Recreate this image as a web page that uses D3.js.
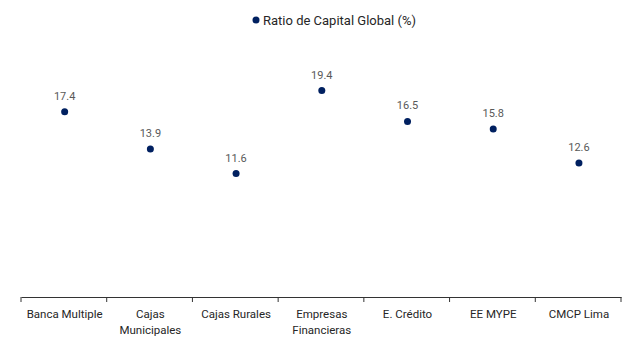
<!DOCTYPE html>
<html>
<head>
<meta charset="utf-8">
<script src="https://cdn.jsdelivr.net/npm/d3@7"></script>
<style>
  body { margin: 0; background: #fff; }
  text { font-family: Roboto, "Noto Sans", sans-serif; }
</style>
</head>
<body>
<script>
// data
var categories = ["Banca Multiple", "Cajas Municipales", "Cajas Rurales", "Empresas Financieras", "E. Crédito", "EE MYPE", "CMCP Lima"];
var tickLines = [["Banca Multiple"], ["Cajas", "Municipales"], ["Cajas Rurales"], ["Empresas", "Financieras"], ["E. Crédito"], ["EE MYPE"], ["CMCP Lima"]];
var ratio = [17.4, 13.9, 11.6, 19.4, 16.5, 15.8, 12.6];
var seriesName = "Ratio de Capital Global (%)";

var width = 627, height = 351;
var svg = d3.select("body").append("svg")
            .attr("width", width)
            .attr("height", height);

var x = d3.scaleBand().domain(categories).range([21, 621]);
var y = d3.scaleLinear().domain([0, 25]).range([297, 31]);
var cx = function(c) { return x(c) + x.bandwidth() / 2 + 0.8; };

// axis
var axis = svg.append("g")
              .attr("transform", "translate(0,297)")
              .call(d3.axisBottom(x).tickSize(0).tickFormat(""));
axis.select(".domain").attr("stroke", "#333").attr("stroke-width", 1);

// tick marks at band edges
var edges = categories.map(function(c) { return x(c); }).concat([x.range()[1]]);
svg.selectAll("line.tick-edge").data(edges).enter().append("line")
   .attr("class", "tick-edge")
   .attr("x1", function(d) { return d; })
   .attr("x2", function(d) { return d; })
   .attr("y1", 297).attr("y2", 302)
   .attr("stroke", "#333");

// category labels
var labels = svg.selectAll("text.cat").data(categories).enter().append("text")
   .attr("class", "cat")
   .attr("x", function(d) { return cx(d); })
   .attr("y", 318)
   .attr("text-anchor", "middle")
   .attr("font-size", "11.5px")
   .attr("fill", "#262626");
labels.each(function(d, i) {
  var t = d3.select(this);
  tickLines[i].forEach(function(line, j) {
    t.append("tspan")
     .attr("x", cx(d))
     .attr("dy", j === 0 ? 0 : 16)
     .text(line);
  });
});

// points
svg.selectAll("circle.pt").data(ratio).enter().append("circle")
   .attr("class", "pt")
   .attr("cx", function(d, i) { return cx(categories[i]); })
   .attr("cy", function(d) { return y(d); })
   .attr("r", 3.5)
   .attr("fill", "#002060");

// value labels
svg.selectAll("text.val").data(ratio).enter().append("text")
   .attr("class", "val")
   .attr("x", function(d, i) { return cx(categories[i]); })
   .attr("y", function(d) { return y(d) - 12; })
   .attr("text-anchor", "middle")
   .attr("font-size", "11px")
   .attr("fill", "#595959")
   .text(function(d) { return d.toFixed(1); });

// legend
svg.append("circle").attr("cx", 256).attr("cy", 20).attr("r", 3.5).attr("fill", "#002060");
svg.append("text").attr("x", 263).attr("y", 24.5)
   .attr("font-size", "13px")
   .attr("fill", "#262626")
   .text(seriesName);
</script>
</body>
</html>
